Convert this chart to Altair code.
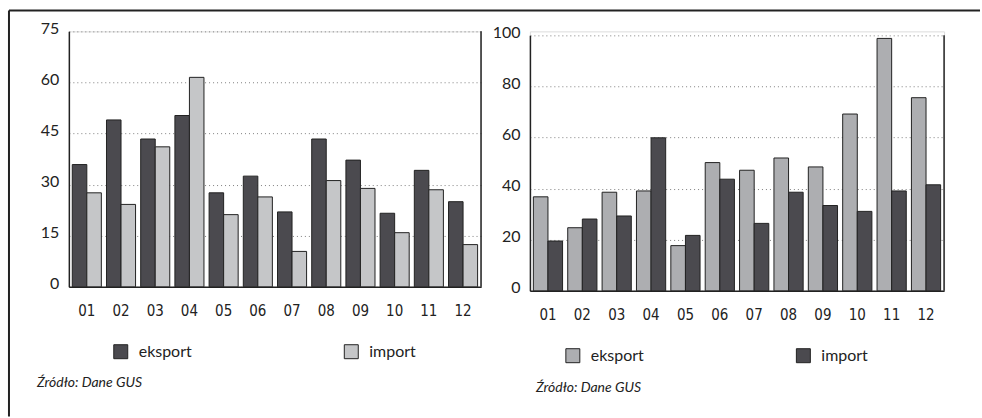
import altair as alt
import pandas as pd

MONTHS = ["01", "02", "03", "04", "05", "06", "07", "08", "09", "10", "11", "12"]
SERIES = ["eksport", "import"]

LEFT_EKSPORT = [35.9, 49.0, 43.4, 50.3, 27.6, 32.5, 22.0, 43.4, 37.2, 21.6, 34.2, 25.0]
LEFT_IMPORT = [27.6, 24.2, 41.1, 61.5, 21.2, 26.4, 10.4, 31.2, 28.9, 15.9, 28.5, 12.4]
RIGHT_EKSPORT = [36.8, 24.7, 38.6, 39.1, 17.7, 50.2, 47.2, 52.0, 48.5, 69.2, 98.8, 75.6]
RIGHT_IMPORT = [19.5, 28.1, 29.3, 59.9, 21.7, 43.7, 26.4, 38.6, 33.4, 31.1, 39.1, 41.5]

LEFT_TICKS = [0, 15, 30, 45, 60, 75]
RIGHT_TICKS = [0, 20, 40, 60, 80, 100]
LEFT_COLORS = ["#4b4a4f", "#c5c6c8"]
RIGHT_COLORS = ["#adaeb1", "#4b4a4f"]
SOURCE = "Źródło: Dane GUS"

INK = "#222222"


def make_df(eks, imp):
    rows = []
    for m, e, i in zip(MONTHS, eks, imp):
        rows.append({"month": m, "series": "eksport", "value": e})
        rows.append({"month": m, "series": "import", "value": i})
    return pd.DataFrame(rows)


one = pd.DataFrame({"k": [0]})


def panel(eks, imp, ymax, ticks, colors, width, height, yrange, lx, ly, sx, sy, extra):
    df = make_df(eks, imp)
    bars = alt.Chart(df).mark_bar(stroke=INK, strokeWidth=1).encode(
        x=alt.X(
            "month:N", sort=MONTHS,
            scale=alt.Scale(paddingInner=0.15, paddingOuter=0.1),
            axis=alt.Axis(title=None, labelAngle=0, ticks=False, domainColor=INK,
                          domainWidth=1.5, labelFont="DejaVu Sans Condensed",
                          labelFontSize=15, labelColor=INK, labelPadding=17, grid=False),
        ),
        xOffset=alt.XOffset("series:N", sort=SERIES, scale=alt.Scale(paddingInner=0)),
        y=alt.Y(
            "value:Q",
            scale=alt.Scale(domain=[0, ymax], range=yrange, nice=False, zero=True),
            axis=alt.Axis(title=None, values=ticks, ticks=False, domainColor=INK,
                          domainWidth=1.5, grid=True, gridDash=[1, 3], gridColor="#808080",
                          gridWidth=1, labelFont="Lato", labelFontSize=16,
                          labelPadding=10, labelColor=INK, labelOffset=-3),
        ),
        color=alt.Color(
            "series:N", sort=SERIES,
            scale=alt.Scale(domain=SERIES, range=colors),
            legend=alt.Legend(title=None, orient="none", legendX=lx, legendY=ly,
                              direction="horizontal", columns=2, columnPadding=150,
                              symbolType="square", symbolSize=196,
                              symbolStrokeColor=INK, symbolStrokeWidth=1,
                              labelFont="Lato", labelFontSize=16, labelOffset=10,
                              labelColor=INK, padding=0),
        ),
    )
    border = alt.Chart(one).mark_rule(color=INK, strokeWidth=1.5).encode(
        x=alt.value(width), y=alt.value(yrange[1]), y2=alt.value(yrange[0])
    )
    src = alt.Chart(pd.DataFrame({"t": [SOURCE]})).mark_text(
        align="left", baseline="alphabetic", font="Lato", fontStyle="italic",
        fontSize=14, color=INK
    ).encode(text="t:N", x=alt.value(sx), y=alt.value(sy))
    return alt.layer(bars, border, src, *extra).properties(width=width, height=height)


top_line = alt.Chart(one).mark_rule(color=INK, strokeWidth=2).encode(
    x=alt.value(-60), x2=alt.value(913), y=alt.value(-21)
)
left_line = alt.Chart(one).mark_rule(color=INK, strokeWidth=2).encode(
    x=alt.value(-60), y=alt.value(-21), y2=alt.value(386)
)

left = panel(LEFT_EKSPORT, LEFT_IMPORT, 75, LEFT_TICKS, LEFT_COLORS, 413, 256, [256, 0],
             44, 313, -32, 356, [top_line, left_line])
right = panel(RIGHT_EKSPORT, RIGHT_IMPORT, 100, RIGHT_TICKS, RIGHT_COLORS, 415, 260, [260, 4],
              35, 317, 6, 361, [])

chart = alt.hconcat(left, right, spacing=49, bounds="flush").resolve_scale(
    x="independent", y="independent", color="independent", xOffset="independent"
).resolve_legend(color="independent").properties(
    padding={"left": 7, "top": 8, "right": 0, "bottom": 0}
).configure_view(stroke=None).configure(background="white")

chart.save("out.html", embed_options={"renderer": "svg", "actions": False})
